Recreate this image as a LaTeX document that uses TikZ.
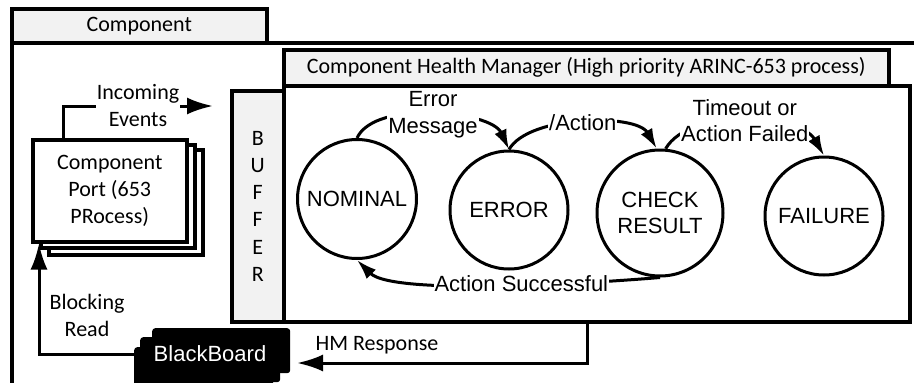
\documentclass[tikz,border=0pt]{standalone}
\usepackage{fontspec}
\setmainfont{Carlito}
\newfontfamily\arialfam{Liberation Sans}
\usetikzlibrary{arrows.meta}
\definecolor{tabgray}{HTML}{F2F2F2}
\begin{document}
\begin{tikzpicture}[x=1pt,y=1pt,
  frame/.style={draw,line width=3.5pt,anchor=north west,inner sep=0pt},
  tabbox/.style={frame,fill=tabgray},
  cal/.style={font=\fontsize{22}{27}\selectfont},
  ari/.style={font=\arialfam\fontsize{22}{26.5}\selectfont},
  state/.style={circle,draw,line width=3pt,ari,align=center,inner sep=0pt},
  bigarr/.style={line width=3pt,-{Latex[length=26pt,width=17pt]}},
  smallarr/.style={line width=3pt,-{Latex[length=20pt,width=13pt]}},
  lbl/.style={fill=white,inner sep=1pt,align=center},
  blk/.style={fill=black,rounded corners=3pt,anchor=north west,inner sep=0pt}
]
\useasboundingbox (0,0) rectangle (914,-383);
\clip (0,0) rectangle (914,-383);
% outer component
\node[frame,minimum width=930,minimum height=343] (outer) at (10,-41) {};
\node[tabbox,cal,minimum width=255,minimum height=34] (ctab) at (10,-7) {Component};
% health manager
\node[tabbox,cal,minimum width=605,minimum height=36] (chmtab) at (282,-48) {Component Health Manager (High priority ARINC-653 process)};
\node[tabbox,cal,align=center,minimum width=52,minimum height=231,font=\fontsize{22}{27.2}\selectfont] (buf) at (230,-89) {B\\U\\F\\F\\E\\R};
\node[frame,fill=white,minimum width=626,minimum height=236] (main) at (282,-84) {};
% component port stack
\node[frame,fill=white,minimum width=154,minimum height=105] (port3) at (47,-148) {};
\node[frame,fill=white,minimum width=154,minimum height=103] (port2) at (39,-143) {};
\node[frame,fill=white,minimum width=154,minimum height=102,cal,align=center] (port) at (31,-138) {Component\\Port (653\\PRocess)};
% blackboard stack
\node[blk,minimum width=138,minimum height=45] (bb3) at (152,-328) {};
\node[blk,minimum width=140,minimum height=45] (bb2) at (140,-337) {};
\node[blk,minimum width=139,minimum height=50] (bbf) at (134,-347) {};
\node[ari,text=white,inner sep=0pt] (bb) at (210,-354) {BlackBoard};
% states
\node[state,minimum size=119] (nom) at (357,-199) {NOMINAL};
\node[state,minimum size=118] (err) at (509,-210) {ERROR};
\node[state,minimum size=126] (chk) at (660,-213) {CHECK\\RESULT};
\node[state,minimum size=118] (fail) at (824,-216) {FAILURE};
% transitions
\draw[smallarr] (nom.north) to[out=65,in=115,looseness=0.72] node[lbl,ari]{Error\\Message} (err.north);
\draw[smallarr] (err.north) to[out=60,in=120,looseness=0.7] node[lbl,ari]{/Action} (chk.93);
\draw[smallarr] (chk.85) to[out=60,in=120,looseness=0.78] node[lbl,ari]{Timeout or\\Action Failed} (fail.north);
\draw[smallarr] (chk.south) to[out=185,in=-45,out looseness=0.3,in looseness=0.45] node[lbl,ari,pos=0.47]{Action Successful} (nom.south);
% data flows
\coordinate (inev) at (213,-106);
\draw[bigarr] ([xshift=32pt]port.north west) |- node[pos=0.75,lbl,cal]{Incoming\\Events} (inev);
\draw[bigarr] (bb -| bbf.west) -| ([xshift=8pt]port.south west);
\node[cal,align=center] (brl) at (87,-315) {Blocking\\Read};
\coordinate (hmend) at (297,-363);
\draw[bigarr] ([xshift=305pt]main.south west) |- (hmend);
\node[cal] (hml) at (377,-345) {HM Response};
\end{tikzpicture}
\end{document}
